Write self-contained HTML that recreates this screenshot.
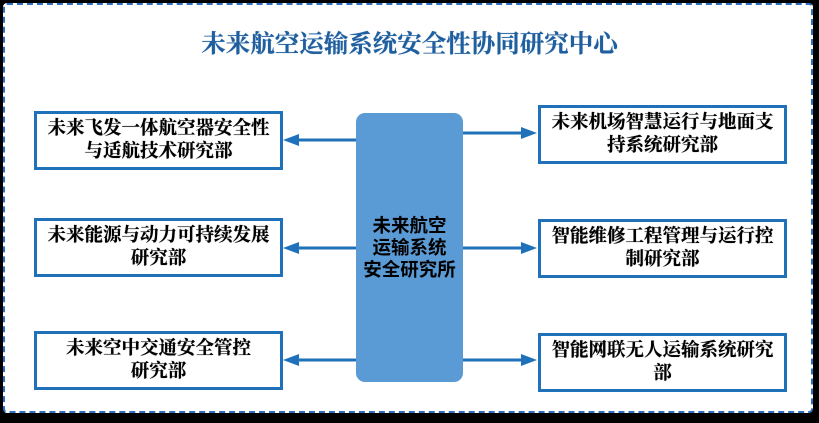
<!DOCTYPE html>
<html><head><meta charset="utf-8"><style>
body{margin:0;width:819px;height:423px;background:#000;position:relative;overflow:hidden;font-family:"Liberation Serif","Noto Serif CJK SC",serif}
.frame{position:absolute;left:3px;top:3px;width:806px;height:406px;background:#fff;border:2px dashed #2f6fc0;border-radius:4px}
.t{position:absolute;left:0;width:819px;top:25px;text-align:center;font-size:24.5px;font-weight:bold;color:#1f5f9f;text-shadow:0 0 0.6px #1f5f9f}
.b{position:absolute;width:243px;height:53px;border:3px solid #1f72ba;background:#fff;display:flex;align-items:center;justify-content:center;text-align:center;font-size:18.5px;font-weight:bold;line-height:23px;color:#000;text-shadow:0 0 0.6px #000;white-space:nowrap}
.c{position:absolute;left:356px;top:113px;width:107px;height:269px;background:#5b9bd5;border-radius:9px;display:flex;align-items:center;justify-content:center;text-align:center;font-size:18.5px;font-weight:bold;line-height:22px;font-family:"Liberation Sans","Noto Sans CJK SC",sans-serif;color:#000}
</style></head><body>
<div class="frame"></div>
<div class="t">未来航空运输系统安全性协同研究中心</div>
<div class="b" style="left:34px;top:111px">未来飞发一体航空器安全性<br>与适航技术研究部</div>
<div class="b" style="left:34px;top:218px">未来能源与动力可持续发展<br>研究部</div>
<div class="b" style="left:34px;top:331px">未来空中交通安全管控<br>研究部</div>
<div class="b" style="left:538px;top:105px">未来机场智慧运行与地面支<br>持系统研究部</div>
<div class="b" style="left:538px;top:219px">智能维修工程管理与运行控<br>制研究部</div>
<div class="b" style="left:538px;top:333px">智能网联无人运输系统研究<br>部</div>
<div class="c">未来航空<br>运输系统<br>安全研究所</div>
<svg width="819" height="423" style="position:absolute;left:0;top:0">
<g stroke="#1f72ba" stroke-width="3" fill="#1f72ba">
<line x1="356" y1="140" x2="296" y2="140"/><polygon points="283,140 299,134 299,146" stroke="none"/>
<line x1="356" y1="248" x2="296" y2="248"/><polygon points="283,248 299,242 299,254" stroke="none"/>
<line x1="356" y1="360" x2="296" y2="360"/><polygon points="283,360 299,354 299,366" stroke="none"/>
<line x1="463" y1="133" x2="524" y2="133"/><polygon points="537,133 521,127 521,139" stroke="none"/>
<line x1="463" y1="248" x2="524" y2="248"/><polygon points="537,248 521,242 521,254" stroke="none"/>
<line x1="463" y1="360" x2="524" y2="360"/><polygon points="537,360 521,354 521,366" stroke="none"/>
</g></svg>
</body></html>
